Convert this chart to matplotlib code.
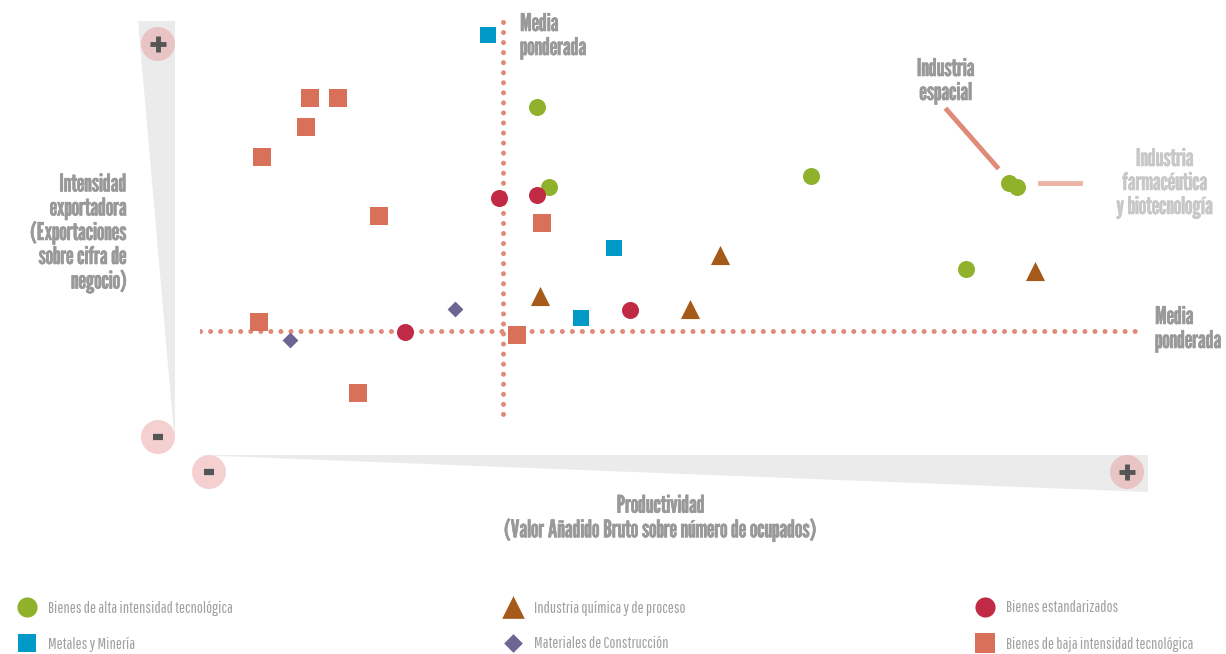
import matplotlib
matplotlib.use('Agg')
import matplotlib.pyplot as plt
import matplotlib.patheffects as pe
from matplotlib.patches import Polygon, Circle

head_font = ['League Gothic', 'DejaVu Sans']
leg_font = ['Pathway Gothic One', 'DejaVu Sans']

# productividad (x) / intensidad exportadora (y), indice 0-100
alta_x = [35.9, 37.1, 65.0, 86.1, 86.9, 81.5]
alta_y = [78.3, 58.3, 61.0, 59.3, 58.3, 37.8]
estand_x = [31.8, 35.9, 45.7, 21.8]
estand_y = [55.5, 56.3, 27.5, 22.0]
quim_x = [36.2, 55.3, 52.1, 88.8]
quim_y = [31.0, 41.3, 27.8, 37.3]
metal_x = [30.6, 44.0, 40.5]
metal_y = [96.3, 43.0, 25.5]
constr_x = [27.1, 9.6]
constr_y = [27.8, 20.0]
baja_x = [11.7, 14.7, 11.3, 6.6, 19.0, 36.4, 6.3, 33.7, 16.8]
baja_y = [80.5, 80.5, 73.3, 65.8, 51.0, 49.3, 24.5, 21.3, 6.8]
media_x = 32.2
media_y = 22.3

series = [
    ('Bienes de alta intensidad tecnológica', alta_x, alta_y, 'o', '#8fb12c', 150),
    ('Industria química y de proceso', quim_x, quim_y, '^', '#a65a1a', 190),
    ('Bienes estandarizados', estand_x, estand_y, 'o', '#c12a45', 150),
    ('Metales y Minería', metal_x, metal_y, 's', '#0099c8', 120),
    ('Materiales de Construcción', constr_x, constr_y, 'D', '#6e6592', 65),
    ('Bienes de baja intensidad tecnológica', baja_x, baja_y, 's', '#d9705a', 150),
]

W, H = 1226, 654
fig = plt.figure(figsize=(W / 100, H / 100), dpi=100)

# fondo en pixeles para cuñas, circulos y textos
bg = fig.add_axes([0, 0, 1, 1])
bg.set_xlim(0, W)
bg.set_ylim(H, 0)
bg.axis('off')

bg.add_patch(Polygon([(138, 21), (175, 21), (175, 445)], closed=True, color='#ebebeb', lw=0))
bg.add_patch(Polygon([(195, 455), (1148, 455), (1148, 492)], closed=True, color='#ebebeb', lw=0))
for cx, cy, sign, col in [(158, 44, '+', '#e8c4c4'), (158, 437, '-', '#f4d0d0'),
                          (209, 472, '-', '#f4d0d0'), (1127, 472, '+', '#e8c4c4')]:
    bg.add_patch(Circle((cx, cy), 17, color=col, lw=0))
    if sign == '+':
        bg.plot([cx - 8, cx + 8], [cy, cy], color='#555555', lw=3.5, solid_capstyle='butt')
        bg.plot([cx, cx], [cy - 8, cy + 8], color='#555555', lw=3.5, solid_capstyle='butt')
    else:
        bg.plot([cx - 5, cx + 5], [cy, cy], color='#555555', lw=4.5, solid_capstyle='butt')

gris = '#999999'
head = dict(color=gris, fontsize=17.5, family=head_font, linespacing=1.0,
            path_effects=[pe.withStroke(linewidth=0.4, foreground=gris)])
bg.text(520, 36, 'Media\nponderada', ha='left', va='center', **head)
bg.text(1155, 329, 'Media\nponderada', ha='left', va='center', **head)
bg.text(127, 233, 'Intensidad\nexportadora\n(Exportaciones\nsobre cifra de\nnegocio)',
        ha='right', va='center', **head)
bg.text(661, 518, 'Productividad\n(Valor Añadido Bruto sobre número de ocupados)',
        ha='center', va='center', **head)
bg.text(946, 81, 'Industria\nespacial', ha='center', va='center', **head)
claro = '#c8c8c8'
bg.text(1165, 183, 'Industria\nfarmacéutica\ny biotecnología', ha='center', va='center',
        color=claro, fontsize=17.5, family=head_font, linespacing=1.0,
        path_effects=[pe.withStroke(linewidth=0.4, foreground=claro)])
bg.plot([947, 997], [110, 167], color='#e08a78', lw=3.5)
bg.plot([1040, 1080], [183, 183], color='#ebb4a4', lw=3.5)

# zona de datos
ax = fig.add_axes([200 / W, 1 - 420 / H, 940 / W, 400 / H])
ax.set_xlim(0, 100)
ax.set_ylim(0, 100)
ax.axis('off')
ax.patch.set_alpha(0)

ax.plot([media_x, media_x], [-1, 100.5], color='#e08a78', lw=3.6,
        linestyle=(0, (0.01, 2.0)), dash_capstyle='round', zorder=1)
ax.plot([0, 99.5], [media_y, media_y], color='#e08a78', lw=3.6,
        linestyle=(0, (0.01, 2.0)), dash_capstyle='round', zorder=1)

for name, xs, ys, m, c, s in series:
    ax.scatter(xs, ys, marker=m, color=c, s=s, lw=0, zorder=3, clip_on=False)

# leyenda
lx = [27, 513, 985]
ly = [607, 643]
for i, (name, xs, ys, m, c, s) in enumerate(series):
    px = lx[i % 3]
    py = ly[i // 3]
    bg.scatter([px], [py], marker=m, color=c, s=s * 1.4, lw=0)
    bg.text(px + 21, py + 1, name, ha='left', va='center', color='#a0a0a0', fontsize=11.5, family=leg_font)

fig.savefig('out.png', dpi=100)
